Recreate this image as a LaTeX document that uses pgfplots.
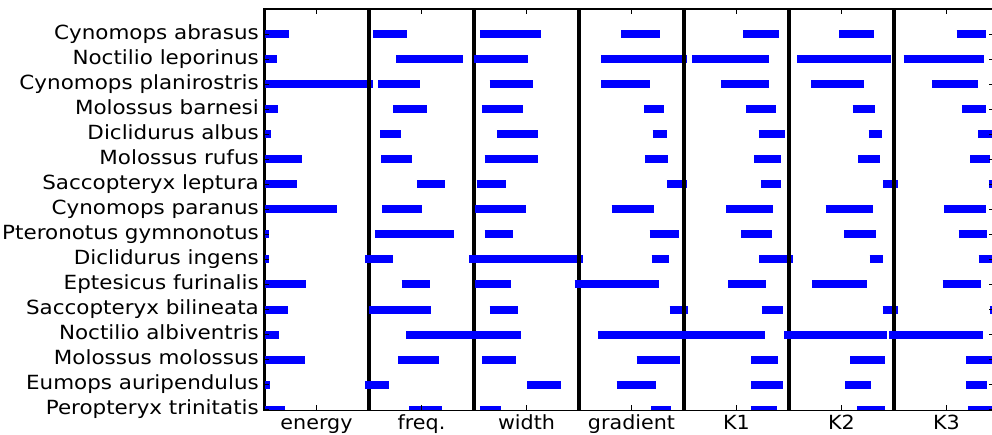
\documentclass[border=0pt]{standalone}
\usepackage{fontspec}
\setmainfont{DejaVu Sans}[FakeStretch=1.06]
\newfontfamily\ylabfont{DejaVu Sans}[FakeStretch=1.1]
\usepackage{pgfplots}
\pgfplotsset{compat=1.18}
\begin{document}
\begin{tikzpicture}
\begin{axis}[
  name=ax,
  scale only axis,
  width=730pt, height=401.7pt,
  xmin=0, xmax=6.952, ymin=-0.04, ymax=16,
  axis on top,
  unbounded coords=jump,
  xtick={0.5,1.5,2.5,3.5,4.5,5.5,6.5},
  xticklabels={energy,freq.,width,gradient,K1,K2,K3},
  ytick={0,1,2,3,4,5,6,7,8,9,10,11,12,13,14,15},
  yticklabels={Peropteryx trinitatis,Eumops auripendulus,Molossus molossus,Noctilio albiventris,Saccopteryx bilineata,Eptesicus furinalis,Diclidurus ingens,Pteronotus gymnonotus,Cynomops paranus,Saccopteryx leptura,Molossus rufus,Diclidurus albus,Molossus barnesi,Cynomops planirostris,Noctilio leporinus,Cynomops abrasus},
  tick align=inside,
  major tick length=5.5pt,
  tick style={black, line width=1pt},
  axis line style={black, line width=1.2pt},
  xticklabel style={font=\fontsize{19.5}{23}\selectfont, inner sep=0pt, anchor=north, text height=18.8pt, text depth=5pt},
  yticklabel style={font=\ylabfont\fontsize{19.5}{23}\selectfont, inner sep=5pt, text height=14pt, text depth=4pt},
  every axis plot/.append style={line cap=butt},
]
\coordinate (TL) at (rel axis cs:0,1);
% feature 0: energy
\addplot[black, line width=4pt] coordinates {(0,-1) (0,17)};
\addplot[blue, line width=8pt] coordinates {
(0,15) (0.24,15) (nan,nan)
(0,14) (0.127,14) (nan,nan)
(0,13) (1.041,13) (nan,nan)
(0,12) (0.13,12) (nan,nan)
(0,11) (0.07,11) (nan,nan)
(0,10) (0.365,10) (nan,nan)
(0,9) (0.317,9) (nan,nan)
(0,8) (0.698,8) (nan,nan)
(0,7) (0.045,7) (nan,nan)
(0,6) (0.05,6) (nan,nan)
(0,5) (0.397,5) (nan,nan)
(0,4) (0.229,4) (nan,nan)
(0,3) (0.146,3) (nan,nan)
(0,2) (0.39,2) (nan,nan)
(0,1) (0.057,1) (nan,nan)
(0,0) (0.2,0)
};
% feature 1: freq.
\addplot[black, line width=4pt] coordinates {(1,-1) (1,17)};
\addplot[blue, line width=8pt] coordinates {
(1.04,15) (1.365,15) (nan,nan)
(1.26,14) (1.892,14) (nan,nan)
(1.086,13) (1.489,13) (nan,nan)
(1.232,12) (1.556,12) (nan,nan)
(1.108,11) (1.308,11) (nan,nan)
(1.117,10) (1.406,10) (nan,nan)
(1.46,9) (1.727,9) (nan,nan)
(1.124,8) (1.505,8) (nan,nan)
(1.057,7) (1.806,7) (nan,nan)
(0.965,6) (1.229,6) (nan,nan)
(1.311,5) (1.578,5) (nan,nan)
(1.003,4) (1.59,4) (nan,nan)
(1.355,3) (2.0,3) (nan,nan)
(1.279,2) (1.667,2) (nan,nan)
(0.962,1) (1.187,1) (nan,nan)
(1.384,0) (1.692,0)
};
% feature 2: width
\addplot[black, line width=4pt] coordinates {(2,-1) (2,17)};
\addplot[blue, line width=8pt] coordinates {
(2.057,15) (2.635,15) (nan,nan)
(2.003,14) (2.517,14) (nan,nan)
(2.149,13) (2.565,13) (nan,nan)
(2.076,12) (2.47,12) (nan,nan)
(2.219,11) (2.613,11) (nan,nan)
(2.102,10) (2.613,10) (nan,nan)
(2.025,9) (2.302,9) (nan,nan)
(2.01,8) (2.492,8) (nan,nan)
(2.102,7) (2.371,7) (nan,nan)
(1.957,6) (3.038,6) (nan,nan)
(2.006,5) (2.35,5) (nan,nan)
(2.149,4) (2.422,4) (nan,nan)
(1.96,3) (2.445,3) (nan,nan)
(2.079,2) (2.397,2) (nan,nan)
(2.508,1) (2.825,1) (nan,nan)
(2.057,0) (2.254,0)
};
% feature 3: gradient
\addplot[black, line width=4pt] coordinates {(3,-1) (3,17)};
\addplot[blue, line width=8pt] coordinates {
(3.403,15) (3.771,15) (nan,nan)
(3.207,14) (4.032,14) (nan,nan)
(3.21,13) (3.679,13) (nan,nan)
(3.619,12) (3.806,12) (nan,nan)
(3.702,11) (3.838,11) (nan,nan)
(3.629,10) (3.845,10) (nan,nan)
(3.841,9) (4.032,9) (nan,nan)
(3.311,8) (3.711,8) (nan,nan)
(3.673,7) (3.952,7) (nan,nan)
(3.692,6) (3.854,6) (nan,nan)
(2.959,5) (3.765,5) (nan,nan)
(3.863,4) (4.041,4) (nan,nan)
(3.184,3) (4.05,3) (nan,nan)
(3.549,2) (3.959,2) (nan,nan)
(3.359,1) (3.73,1) (nan,nan)
(3.689,0) (3.879,0)
};
% feature 4: K1
\addplot[black, line width=4pt] coordinates {(4,-1) (4,17)};
\addplot[blue, line width=8pt] coordinates {
(4.565,15) (4.908,15) (nan,nan)
(4.076,14) (4.81,14) (nan,nan)
(4.352,13) (4.806,13) (nan,nan)
(4.59,12) (4.876,12) (nan,nan)
(4.711,11) (4.962,11) (nan,nan)
(4.667,10) (4.924,10) (nan,nan)
(4.733,9) (4.927,9) (nan,nan)
(4.403,8) (4.851,8) (nan,nan)
(4.543,7) (4.841,7) (nan,nan)
(4.717,6) (5.038,6) (nan,nan)
(4.419,5) (4.778,5) (nan,nan)
(4.74,4) (4.943,4) (nan,nan)
(3.95,3) (4.771,3) (nan,nan)
(4.638,2) (4.898,2) (nan,nan)
(4.638,1) (4.946,1) (nan,nan)
(4.635,0) (4.889,0)
};
% feature 5: K2
\addplot[black, line width=4pt] coordinates {(5,-1) (5,17)};
\addplot[blue, line width=8pt] coordinates {
(5.479,15) (5.806,15) (nan,nan)
(5.079,14) (5.974,14) (nan,nan)
(5.21,13) (5.711,13) (nan,nan)
(5.606,12) (5.816,12) (nan,nan)
(5.759,11) (5.886,11) (nan,nan)
(5.66,10) (5.867,10) (nan,nan)
(5.895,9) (6.038,9) (nan,nan)
(5.349,8) (5.8,8) (nan,nan)
(5.527,7) (5.832,7) (nan,nan)
(5.768,6) (5.895,6) (nan,nan)
(5.222,5) (5.746,5) (nan,nan)
(5.892,4) (6.038,4) (nan,nan)
(4.956,3) (5.93,3) (nan,nan)
(5.581,2) (5.917,2) (nan,nan)
(5.537,1) (5.778,1) (nan,nan)
(5.648,0) (5.917,0)
};
% feature 6: K3
\addplot[black, line width=4pt] coordinates {(6,-1) (6,17)};
\addplot[blue, line width=8pt] coordinates {
(6.597,15) (6.879,15) (nan,nan)
(6.092,14) (6.857,14) (nan,nan)
(6.365,13) (6.8,13) (nan,nan)
(6.65,12) (6.879,12) (nan,nan)
(6.8,11) (7.0,11) (nan,nan)
(6.727,10) (6.917,10) (nan,nan)
(6.9,9) (7.05,9) (nan,nan)
(6.479,8) (6.879,8) (nan,nan)
(6.616,7) (6.883,7) (nan,nan)
(6.806,6) (7.0,6) (nan,nan)
(6.463,5) (6.825,5) (nan,nan)
(6.91,4) (7.05,4) (nan,nan)
(5.955,3) (6.845,3) (nan,nan)
(6.689,2) (7.0,2) (nan,nan)
(6.683,1) (6.889,1) (nan,nan)
(6.705,0) (7.0,0)
};
\end{axis}
\pgfresetboundingbox
\path[use as bounding box] ([xshift=-264pt,yshift=9pt]TL) rectangle ([xshift=728pt,yshift=-426pt]TL);
\end{tikzpicture}
\end{document}
